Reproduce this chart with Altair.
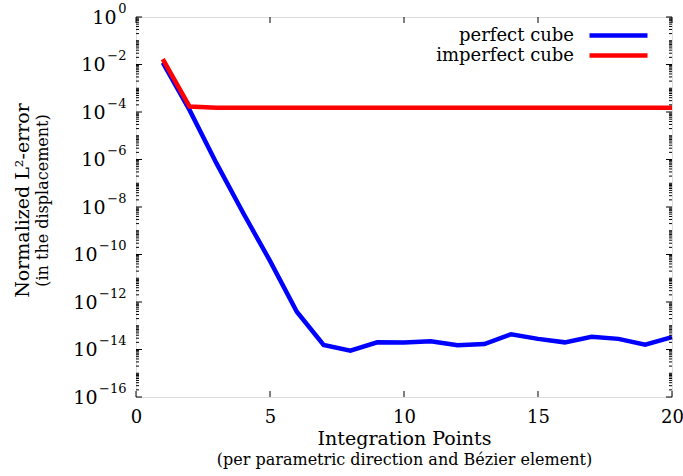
import altair as alt
import pandas as pd

# Data
points = list(range(1, 21))
perfect = [1.2e-2, 1.2e-4, 7e-7, 5.6e-9, 5.4e-11, 3.9e-13, 1.55e-14, 8.9e-15, 2.0e-14, 1.95e-14,
           2.2e-14, 1.5e-14, 1.7e-14, 4.4e-14, 2.8e-14, 2.0e-14, 3.4e-14, 2.8e-14, 1.6e-14, 3.3e-14]
imperfect = [1.7e-2, 1.7e-4, 1.5e-4, 1.5e-4, 1.5e-4, 1.5e-4, 1.5e-4, 1.5e-4, 1.5e-4, 1.5e-4,
             1.5e-4, 1.5e-4, 1.5e-4, 1.5e-4, 1.5e-4, 1.5e-4, 1.5e-4, 1.5e-4, 1.5e-4, 1.5e-4]
series = ["perfect cube", "imperfect cube"]
colors = ["#0000ff", "#ff0000"]

y_major = [10.0 ** (-k) for k in range(0, 17, 2)]
y_exponents = ["0", "−2", "−4", "−6", "−8", "−10", "−12", "−14", "−16"]
y_minor = [m * 10.0 ** (-k) for k in range(1, 17) for m in range(1, 10)
           if not (m == 1 and k % 2 == 0)]
x_major = [0, 5, 10, 15, 20]

W, H = 536, 380
FONT = "DejaVu Serif"
FS = 19

df = pd.DataFrame({
    "x": points * 2,
    "y": perfect + imperfect,
    "s": [series[0]] * 20 + [series[1]] * 20,
})
ymaj = pd.DataFrame({"v": y_major})
ymin = pd.DataFrame({"v": y_minor})
xmaj = pd.DataFrame({"v": x_major})

exp_expr = "[" + ",".join("'" + e + "'" for e in y_exponents) + "][round(-log(datum.value)/LN10/2)]"

xs = alt.Scale(domain=[0, 20], nice=False, zero=False)
ys = alt.Scale(type="log", domain=[1e-16, 1], nice=False)

common = dict(domain=False, grid=False, ticks=False, labelFont=FONT, labelColor="#000",
              titleFont=FONT, titleFontWeight="normal", titleColor="#000")

lines = alt.Chart(df).mark_line(strokeWidth=4.5, strokeCap="butt", strokeJoin="miter").encode(
    x=alt.X("x:Q", scale=xs, axis=alt.Axis(values=x_major, labelFontSize=18, labelPadding=11,
                                            labelFlush=False,
                                            title="Integration Points", titleFontSize=FS,
                                            titleY=41, titleBaseline="middle", **common)),
    y=alt.Y("y:Q", scale=ys, axis=alt.Axis(
        values=y_major, labelExpr="'10'", labelFontSize=FS, labelAlign="right",
        labelBaseline="middle", labelFlush=False,
        labelPadding={"condition": [{"test": "datum.value >= 0.5", "value": 20},
                                    {"test": "datum.value >= 1e-9", "value": 31}],
                      "value": 39},
        title="Normalized L²-error", titleFontSize=FS, titleX=-114, titleY=183,
        titleBaseline="middle", titleAngle=-90, **common)),
    color=alt.Color("s:N", scale=alt.Scale(domain=series, range=colors),
                    legend=alt.Legend(orient="none", legendX=472, legendY=8, padding=0,
                                      title=None, labelFont=FONT, labelFontSize=18,
                                      labelColor="#000", symbolType="M-3.625,0L3.625,0",
                                      symbolStrokeWidth=4.5, symbolSize=256,
                                      direction="vertical", rowPadding={"expr": "-1"},
                                      labelLimit=300, labelAlign="right",
                                      labelOffset={"expr": "-55"})),
    detail="s:N",
)

# exponent labels and second title lines (axes of an invisible layer)
ghost = alt.Chart(df).mark_line(opacity=0).encode(
    x=alt.X("x:Q", scale=xs, axis=alt.Axis(
        orient="bottom", labels=False,
        title="(per parametric direction and Bézier element)", titleFontSize=16,
        titleY=62, titleBaseline="middle", **common)),
    y=alt.Y("y:Q", scale=ys, axis=alt.Axis(
        orient="left", values=y_major, labelExpr=exp_expr, labelFontSize=13,
        labelAlign="right", labelBaseline="middle", labelPadding=10,
        labelOffset={"expr": "-9"}, labelFlush=False,
        title="(in the displacement)", titleFontSize=16, titleX=-94, titleY=183,
        titleBaseline="middle", titleAngle=-90, **common)),
)

tick_color = "#000"
def yticks(data, xpos, size):
    return alt.Chart(data).mark_tick(color=tick_color, thickness=1, size=size, opacity=1).encode(
        y=alt.Y("v:Q", scale=ys, axis=None), x=alt.value(xpos))

def xticks(data, ypos, size):
    return alt.Chart(data).mark_tick(color=tick_color, thickness=1, size=size, opacity=1).encode(
        x=alt.X("v:Q", scale=xs, axis=None), y=alt.value(ypos))

ticks = [
    yticks(ymaj, 3, 6), yticks(ymaj, W - 3, 6),
    yticks(ymin, 1.5, 3), yticks(ymin, W - 1.5, 3),
    xticks(xmaj, H - 3, 6), xticks(xmaj, 3, 6),
]

chart = alt.layer(lines, ghost, *ticks).resolve_axis(
    x="independent", y="independent"
).properties(
    width=W, height=H,
    autosize=alt.AutoSizeParams(type="none"),
    padding={"left": 136, "top": 17, "right": 11, "bottom": 79},
).configure_view(stroke="#222", strokeWidth=1.5).configure(background="white")

chart.save("out.html", embed_options={"renderer": "svg", "actions": False})
